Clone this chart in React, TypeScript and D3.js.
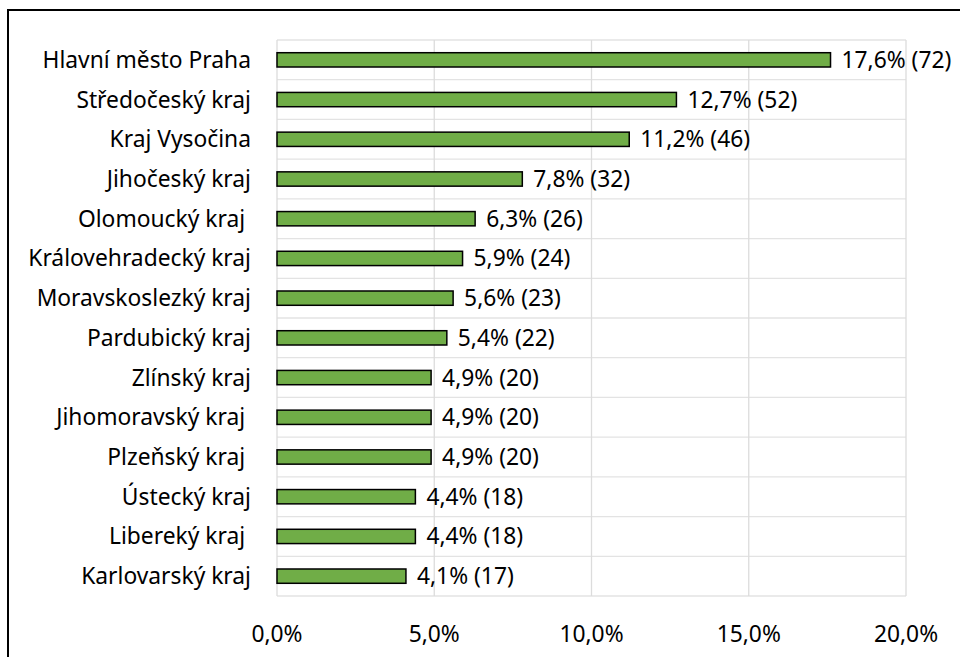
import React, { useEffect, useRef } from "react";
import * as d3 from "d3";

const regions = [
  "Hlavní město Praha",
  "Středočeský kraj",
  "Kraj Vysočina",
  "Jihočeský kraj",
  "Olomoucký kraj ",
  "Královehradecký kraj",
  "Moravskoslezký kraj",
  "Pardubický kraj",
  "Zlínský kraj",
  "Jihomoravský kraj ",
  "Plzeňský kraj ",
  "Ústecký kraj",
  "Libereký kraj ",
  "Karlovarský kraj",
];
const shares = [17.6, 12.7, 11.2, 7.8, 6.3, 5.9, 5.6, 5.4, 4.9, 4.9, 4.9, 4.4, 4.4, 4.1];
const counts = [72, 52, 46, 32, 26, 24, 23, 22, 20, 20, 20, 18, 18, 17];
const xTicks = [0, 5, 10, 15, 20];

const fmt = (v: number) => v.toFixed(1).replace(".", ",") + "%";

const App: React.FC = () => {
  const ref = useRef<SVGSVGElement | null>(null);

  useEffect(() => {
    const svg = d3.select(ref.current);
    svg.selectAll("*").remove();

    const font = "Noto Sans, sans-serif";
    const fontSize = 22.8;
    const left = 277;
    const right = 906;
    const top = 40;
    const bottom = 596;

    // frame
    svg
      .append("rect")
      .attr("x", 8)
      .attr("y", 10)
      .attr("width", 1000)
      .attr("height", 700)
      .attr("fill", "#fff")
      .attr("stroke", "#000")
      .attr("stroke-width", 2);

    const x = d3.scaleLinear().domain([0, 20]).range([left, right]);
    const y = d3
      .scaleBand()
      .domain(regions)
      .range([top, bottom])
      .paddingInner(0.64)
      .paddingOuter(0.32);
    const rows = d3.scaleBand().domain(regions).range([top, bottom]);

    const g = svg.append("g");

    // horizontal grid at row boundaries
    g.selectAll("line.hg")
      .data(d3.range(regions.length + 1))
      .enter()
      .append("line")
      .attr("x1", left)
      .attr("x2", right)
      .attr("y1", (i) => top + i * rows.step())
      .attr("y2", (i) => top + i * rows.step())
      .attr("stroke", "#e3e3e3")
      .attr("stroke-width", 1.3);

    g.selectAll("line.vg")
      .data(xTicks)
      .enter()
      .append("line")
      .attr("x1", (d) => x(d))
      .attr("x2", (d) => x(d))
      .attr("y1", top)
      .attr("y2", bottom)
      .attr("stroke", "#dcdcdc")
      .attr("stroke-width", 1.3);

    g.selectAll("rect.bar")
      .data(regions)
      .enter()
      .append("rect")
      .attr("x", x(0))
      .attr("y", (d) => y(d) ?? 0)
      .attr("width", (_, i) => x(shares[i]) - x(0))
      .attr("height", y.bandwidth())
      .attr("fill", "#70ad47")
      .attr("stroke", "#000")
      .attr("stroke-width", 1.5);

    g.selectAll("text.val")
      .data(regions)
      .enter()
      .append("text")
      .attr("x", (_, i) => x(shares[i]) + 11)
      .attr("y", (d) => (rows(d) ?? 0) + rows.bandwidth() / 2)
      .attr("dy", "0.35em")
      .attr("font-family", font)
      .attr("font-size", fontSize)
      .attr("fill", "#000")
      .text((_, i) => `${fmt(shares[i])} (${counts[i]})`);

    g.selectAll("text.cat")
      .data(regions)
      .enter()
      .append("text")
      .attr("x", 251)
      .attr("y", (d) => (rows(d) ?? 0) + rows.bandwidth() / 2)
      .attr("dy", "0.35em")
      .attr("text-anchor", "end")
      .attr("font-family", font)
      .attr("font-size", fontSize)
      .attr("fill", "#000")
      .style("white-space", "pre")
      .text((d) => d);

    g.selectAll("text.tick")
      .data(xTicks)
      .enter()
      .append("text")
      .attr("x", (d) => x(d))
      .attr("y", 634)
      .attr("dy", "0.35em")
      .attr("text-anchor", "middle")
      .attr("font-family", font)
      .attr("font-size", fontSize)
      .attr("fill", "#000")
      .text((d) => fmt(d));
  }, []);

  return (
    <svg
      ref={ref}
      width={960}
      height={657}
      style={{ position: "absolute", left: 0, top: 0 }}
    ></svg>
  );
};

export default App;
